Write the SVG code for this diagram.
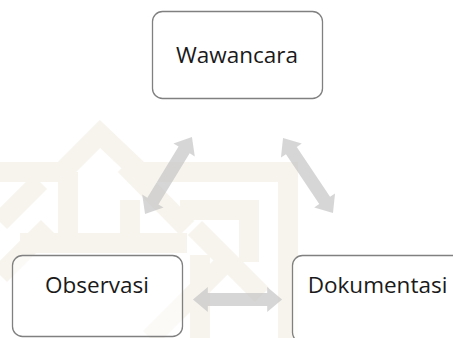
<svg xmlns="http://www.w3.org/2000/svg" width="453" height="338" viewBox="0 0 453 338">
<style>
.wm{fill:none;stroke:#f7f4ed;stroke-width:20;stroke-linejoin:miter;stroke-linecap:butt}
.box{stroke:#808080;stroke-width:1.3}
.lbl{font-family:"Open Sans","Liberation Sans",sans-serif;font-size:22.5px;fill:#1a1a1a;text-anchor:middle}
.arr{fill:#c6c6c6;fill-opacity:0.72}
</style>
<defs>
<path id="dbl" d="M-45,0 L-30,-12.5 L-30,-6.5 L30,-6.5 L30,-12.5 L45,0 L30,12.5 L30,6.5 L-30,6.5 L-30,12.5 Z"/>
</defs>
<rect width="453" height="338" fill="#ffffff"/>
<g id="watermark">
<polyline class="wm" points="0,172 62,172 100,134 140,172 288,172 288,338"/>
<line class="wm" x1="68" y1="172" x2="68" y2="253"/>
<line class="wm" x1="130" y1="200" x2="130" y2="253"/>
<line class="wm" x1="20" y1="243" x2="187" y2="243"/>
<polyline class="wm" points="125,165 187,228"/>
<polyline class="wm" points="180,210 249,210 249,262"/>
<line class="wm" x1="195" y1="228" x2="262" y2="295"/>
<line class="wm" x1="0" y1="222" x2="40" y2="182"/>
<line class="wm" x1="0" y1="275" x2="48" y2="227"/>
<line class="wm" x1="200" y1="255" x2="200" y2="338"/>
<line class="wm" x1="150" y1="338" x2="232" y2="256"/>
</g>
<g id="connectors">
<use href="#dbl" class="arr" transform="translate(168.5,175.5) rotate(-58.6)"/>
<use href="#dbl" class="arr" transform="translate(308,175.5) rotate(56.3)"/>
<use href="#dbl" class="arr" transform="translate(237.5,299.5) scale(0.99,1)"/>
</g>
<g id="node-wawancara">
<rect class="box" x="152.5" y="11.5" width="170" height="87" rx="10" fill="#ffffff"/>
<text class="lbl" x="237" y="63">Wawancara</text>
</g>
<g id="node-observasi">
<rect class="box" x="12.5" y="255.5" width="170" height="81" rx="10" fill="#ffffff" fill-opacity="0.55"/>
<text class="lbl" x="97" y="293">Observasi</text>
</g>
<g id="node-dokumentasi">
<rect class="box" x="292.5" y="255.5" width="170" height="87" rx="10" fill="#ffffff" fill-opacity="0.85"/>
<text class="lbl" x="377.5" y="293">Dokumentasi</text>
</g>
</svg>
